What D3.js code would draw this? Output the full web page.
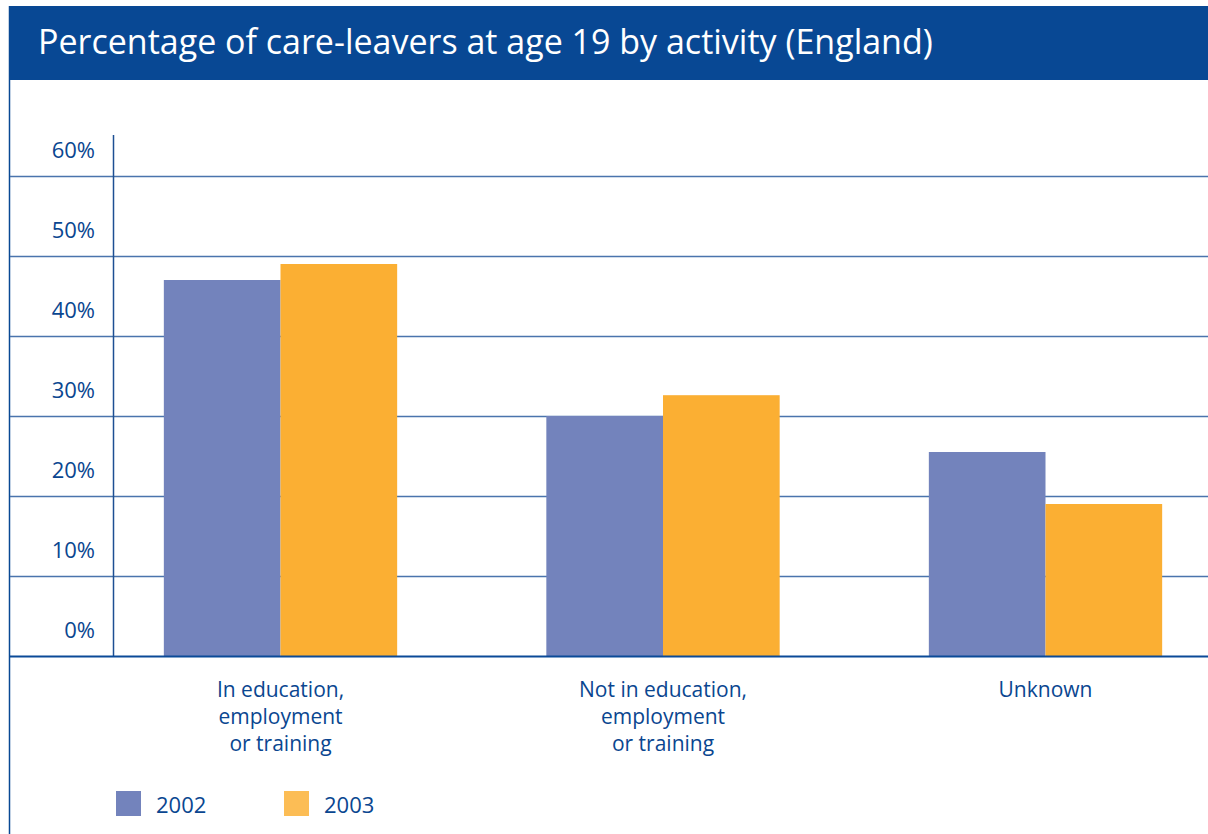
<!DOCTYPE html>
<html>
<head>
<meta charset="utf-8">
<script src="https://cdn.jsdelivr.net/npm/d3@7/dist/d3.min.js"></script>
<style>
  html, body { margin: 0; padding: 0; background: #ffffff; }
  svg { display: block; }
  text { font-family: "Open Sans", "Noto Sans", sans-serif; }
</style>
</head>
<body>
<svg id="chart" width="1208" height="834"></svg>
<script>
// Chart data
const title = "Percentage of care-leavers at age 19 by activity (England)";
const categories = ["In education, employment or training", "Not in education, employment or training", "Unknown"];
const categoryLines = [
  ["In education,", "employment", "or training"],
  ["Not in education,", "employment", "or training"],
  ["Unknown"]
];
const years = ["2002", "2003"];
const values2002 = [47, 30, 25.5];
const values2003 = [49, 32.6, 19];
const yTicks = [0, 10, 20, 30, 40, 50, 60];

const barColors = { "2002": "#7383bc", "2003": "#fbaf33" };
const swatchColors = { "2002": "#7383bc", "2003": "#fcbd55" };
const textBlue = "#0a4690";
const frameBlue = "#084894";

const svg = d3.select("#chart");
const W = 1208, H = 834;

// Title band
svg.append("rect").attr("x", 9).attr("y", 6).attr("width", W - 9).attr("height", 74).attr("fill", frameBlue);
svg.append("text").attr("x", 38).attr("y", 54)
  .attr("fill", "#ffffff").attr("font-size", 34)
  .text(title);

// Left frame rule
svg.append("line").attr("x1", 9.5).attr("x2", 9.5).attr("y1", 6).attr("y2", H)
  .attr("stroke", frameBlue).attr("stroke-width", 1.5);

// Scales
const y = d3.scaleLinear().domain([0, 60]).range([656, 176]);
const x0 = d3.scaleBand().domain(categories).range([89.25, 1236.75])
  .paddingInner(0.39).paddingOuter(0.195);
const x1 = d3.scaleBand().domain(years).range([0, x0.bandwidth()]).padding(0);

// Gridlines
svg.append("g").selectAll("line").data(yTicks.filter(d => d > 0)).join("line")
  .attr("x1", 10).attr("x2", W)
  .attr("y1", d => Math.round(y(d)) + 0.5).attr("y2", d => Math.round(y(d)) + 0.5)
  .attr("stroke", "#4a74ad").attr("stroke-width", 1.4);

// Value axis labels, set above their gridlines
svg.append("g").selectAll("text").data(yTicks).join("text")
  .attr("x", 95).attr("y", d => y(d) - 18)
  .attr("text-anchor", "end").attr("fill", textBlue).attr("font-size", 22)
  .text(d => d + "%");

// Vertical axis rule
svg.append("line").attr("x1", 113.5).attr("x2", 113.5).attr("y1", 135).attr("y2", 656)
  .attr("stroke", "#1d4f93").attr("stroke-width", 1.5);

// Bars
const rows = categories.map((c, i) => ({ cat: c, vals: [
  { year: "2002", v: values2002[i] },
  { year: "2003", v: values2003[i] }
]}));
const groups = svg.append("g").selectAll("g").data(rows).join("g")
  .attr("transform", d => `translate(${x0(d.cat)},0)`);
groups.selectAll("rect").data(d => d.vals).join("rect")
  .attr("x", d => x1(d.year)).attr("width", x1.bandwidth())
  .attr("y", d => y(d.v)).attr("height", d => y(0) - y(d.v))
  .attr("fill", d => barColors[d.year]);

// Baseline
svg.append("line").attr("x1", 10).attr("x2", W).attr("y1", 656.5).attr("y2", 656.5)
  .attr("stroke", "#0b4a98").attr("stroke-width", 1.8);

// Category labels
const catG = svg.append("g").selectAll("text").data(categories).join("text")
  .attr("text-anchor", "middle").attr("fill", textBlue).attr("font-size", 21)
  .attr("transform", d => `translate(${x0(d) + x0.bandwidth() / 2},697)`);
catG.selectAll("tspan").data((d, i) => categoryLines[i]).join("tspan")
  .attr("x", 0).attr("y", (d, i) => i * 26.8).text(d => d);

// Legend
const legendX = [116, 284];
const leg = svg.append("g").selectAll("g").data(years).join("g")
  .attr("transform", (d, i) => `translate(${legendX[i]},791)`);
leg.append("rect").attr("width", 25).attr("height", 25).attr("fill", d => swatchColors[d]);
leg.append("text").attr("x", 40).attr("y", 22).attr("fill", textBlue).attr("font-size", 22).text(d => d);
</script>
</body>
</html>
